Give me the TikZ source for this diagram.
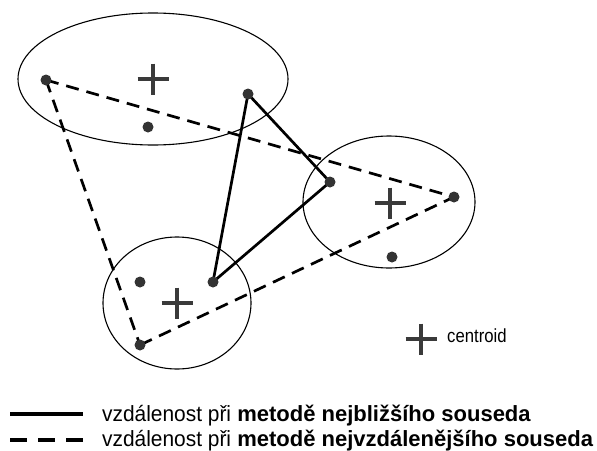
\documentclass[tikz,border=0pt]{standalone}
\usepackage{fontspec}
\setmainfont{Liberation Sans}
\usepackage{graphicx}
\definecolor{dotgray}{HTML}{333333}
\definecolor{crossgray}{HTML}{3A3A3A}
\pgfdeclarelayer{bg}
\pgfsetlayers{bg,main}
\tikzset{
  cluster/.style={draw=black, line width=1.1pt},
  datapt/.style={circle, fill=dotgray, inner sep=0pt, minimum size=11pt},
  nearest/.style={draw=black, line width=2.7pt},
  farthest/.style={draw=black, line width=2.7pt, dash pattern=on 13pt off 8pt},
  centroidmark/.pic={\draw[crossgray, line width=3.4pt] (-15.5,0) -- (15.5,0) (0,-15.5) -- (0,15.5);},
  legendtext/.style={anchor=base west, inner sep=0pt, font=\fontsize{22pt}{26pt}\selectfont}
}
\begin{document}
\begin{tikzpicture}[x=1pt, y=-1pt]
\useasboundingbox (0,0) rectangle (597,450);
% clusters
\draw[cluster] (153,79) ellipse [x radius=135pt, y radius=66pt];
\draw[cluster] (389,202) ellipse [x radius=86pt, y radius=66pt];
\draw[cluster] (177,303) ellipse [x radius=74pt, y radius=66pt];
% centroids
\pic at (153,79) {centroidmark};
\pic at (390,203) {centroidmark};
\pic at (177,303) {centroidmark};
% points
\node[datapt] (A) at (46,80) {};
\node[datapt] (B) at (248,94) {};
\node[datapt] (P1) at (148,127) {};
\node[datapt] (C) at (330,182) {};
\node[datapt] (D) at (454,197) {};
\node[datapt] (P2) at (392,257) {};
\node[datapt] (E) at (140,282) {};
\node[datapt] (F) at (213,282) {};
\node[datapt] (G) at (140,345) {};
\begin{pgfonlayer}{bg}
% farthest neighbour distances
\draw[farthest] (A.center) -- (D.center);
\draw[farthest] (A.center) -- (G.center);
\draw[farthest] (G.center) -- (D.center);
% nearest neighbour distances
\draw[nearest] (B.center) -- (C.center);
\draw[nearest] (B.center) -- (F.center);
\draw[nearest] (C.center) -- (F.center);
\end{pgfonlayer}
% legend
\pic at (421,339) {centroidmark};
\node[anchor=base west, inner sep=0pt, font=\fontsize{19pt}{22pt}\selectfont] (cl) at (447,342) {\scalebox{0.88}[1]{centroid}};
\coordinate (s1) at (10,414);
\coordinate (s2) at (83,414);
\coordinate (d1) at (10,440);
\coordinate (d2) at (83,440);
\draw[black, line width=4pt] (s1) -- (s2);
\draw[black, line width=4pt, dash pattern=on 17pt off 11pt] (d1) -- (d2);
\node[legendtext] (t1) at (102,421) {\scalebox{0.95}[1]{vzdálenost při} \textbf{metodě nejbližšího souseda}};
\node[legendtext] (t2) at (102,446) {\scalebox{0.95}[1]{vzdálenost při} \textbf{metodě nejvzdálenějšího souseda}};
\end{tikzpicture}
\end{document}
